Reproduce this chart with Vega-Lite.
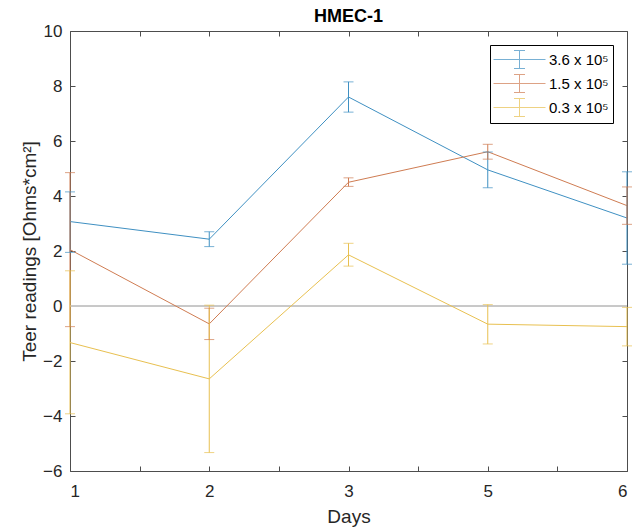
{
  "$schema": "https://vega.github.io/schema/vega-lite/v6.json",
  "width": 557,
  "height": 440,
  "autosize": {"type": "none"},
  "padding": {"left": 70, "top": 31, "right": 10, "bottom": 56},
  "background": "white",
  "title": {"text": "HMEC-1", "fontSize": 18, "fontWeight": "bold", "font": "Liberation Sans", "color": "#000000", "anchor": "middle", "offset": -4},
  "data": {"values": [
    {"series": "3.6 x 10⁵", "obs": 1, "day": 1, "mean": 3.07, "lo": 1.95, "hi": 4.15},
    {"series": "3.6 x 10⁵", "obs": 2, "day": 2, "mean": 2.43, "lo": 2.16, "hi": 2.70},
    {"series": "3.6 x 10⁵", "obs": 3, "day": 3, "mean": 7.6, "lo": 7.05, "hi": 8.15},
    {"series": "3.6 x 10⁵", "obs": 4, "day": 5, "mean": 4.95, "lo": 4.30, "hi": 5.60},
    {"series": "3.6 x 10⁵", "obs": 5, "day": 6, "mean": 3.2, "lo": 1.52, "hi": 4.88},
    {"series": "1.5 x 10⁵", "obs": 1, "day": 1, "mean": 2.05, "lo": -0.75, "hi": 4.85},
    {"series": "1.5 x 10⁵", "obs": 2, "day": 2, "mean": -0.65, "lo": -1.22, "hi": -0.08},
    {"series": "1.5 x 10⁵", "obs": 3, "day": 3, "mean": 4.5, "lo": 4.35, "hi": 4.66},
    {"series": "1.5 x 10⁵", "obs": 4, "day": 5, "mean": 5.61, "lo": 5.34, "hi": 5.88},
    {"series": "1.5 x 10⁵", "obs": 5, "day": 6, "mean": 3.65, "lo": 2.97, "hi": 4.33},
    {"series": "0.3 x 10⁵", "obs": 1, "day": 1, "mean": -1.33, "lo": -3.92, "hi": 1.28},
    {"series": "0.3 x 10⁵", "obs": 2, "day": 2, "mean": -2.65, "lo": -5.33, "hi": 0.03},
    {"series": "0.3 x 10⁵", "obs": 3, "day": 3, "mean": 1.86, "lo": 1.45, "hi": 2.28},
    {"series": "0.3 x 10⁵", "obs": 4, "day": 5, "mean": -0.66, "lo": -1.38, "hi": 0.05},
    {"series": "0.3 x 10⁵", "obs": 5, "day": 6, "mean": -0.75, "lo": -1.45, "hi": -0.05}
  ]},
  "resolve": {"axis": {"x": "independent", "y": "independent"}},
  "layer": [
    {
      "mark": {"type": "rule", "color": "#c8c8c8", "strokeWidth": 1},
      "encoding": {
        "x": {"datum": 1, "type": "quantitative", "scale": {"domain": [1, 5], "nice": false, "zero": false},
              "axis": {"orient": "top", "labels": false, "title": null, "values": [1, 1.5, 2, 2.5, 3, 3.5, 4, 4.5, 5], "grid": false}},
        "x2": {"datum": 5},
        "y": {"datum": 0, "type": "quantitative", "scale": {"domain": [-6, 10], "nice": false, "zero": false},
              "axis": {"orient": "right", "labels": false, "title": null, "values": [-6, -4, -2, 0, 2, 4, 6, 8, 10], "grid": false}}
      }
    },
    {
      "mark": {"type": "line", "strokeWidth": 1},
      "encoding": {
        "x": {"field": "obs", "type": "quantitative", "scale": {"domain": [1, 5], "nice": false, "zero": false},
              "axis": {"orient": "bottom", "title": "Days", "values": [1, 1.5, 2, 2.5, 3, 3.5, 4, 4.5, 5], "grid": false,
                       "labelExpr": "datum.value == 1 ? '1' : datum.value == 2 ? '2' : datum.value == 3 ? '3' : datum.value == 4 ? '5' : datum.value == 5 ? '6' : ''",
                       "titleY": 45, "titleBaseline": "middle", "labelPadding": 17}},
        "y": {"field": "mean", "type": "quantitative", "scale": {"domain": [-6, 10], "nice": false, "zero": false},
              "axis": {"orient": "left", "title": "Teer readings [Ohms*cm²]", "values": [-6, -4, -2, 0, 2, 4, 6, 8, 10], "grid": false,
                       "titleX": -41, "titleY": 220, "titleBaseline": "middle", "titleAngle": -90, "labelPadding": 13}},
        "color": {"field": "series", "type": "nominal",
                  "scale": {"domain": ["3.6 x 10⁵", "1.5 x 10⁵", "0.3 x 10⁵"], "range": ["#3f90c2", "#cf7c52", "#e8c050"]},
                  "legend": {"title": null, "orient": "top-right", "offset": 14,
                             "strokeColor": "#000000", "fillColor": "#ffffff", "padding": 4,
                             "symbolType": "M-2.6,0H2.6M0,-0.9V0.9M-0.55,-0.9H0.55M-0.55,0.9H0.55",
                             "symbolSize": 400, "symbolStrokeWidth": 1, "symbolOffset": 15, "labelOffset": 19,
                             "rowPadding": 1, "labelFontSize": 15, "labelFont": "Liberation Sans", "labelColor": "#000000"}},
        "order": {"field": "obs"}
      }
    },
    {
      "mark": {"type": "rule", "strokeWidth": 1},
      "encoding": {
        "x": {"field": "obs", "type": "quantitative", "axis": null},
        "y": {"field": "lo", "type": "quantitative", "axis": null},
        "y2": {"field": "hi"},
        "color": {"field": "series", "type": "nominal"}
      }
    },
    {
      "mark": {"type": "tick", "orient": "horizontal", "size": 10, "thickness": 1},
      "encoding": {
        "x": {"field": "obs", "type": "quantitative", "axis": null},
        "y": {"field": "lo", "type": "quantitative", "axis": null},
        "color": {"field": "series", "type": "nominal"}
      }
    },
    {
      "mark": {"type": "tick", "orient": "horizontal", "size": 10, "thickness": 1},
      "encoding": {
        "x": {"field": "obs", "type": "quantitative", "axis": null},
        "y": {"field": "hi", "type": "quantitative", "axis": null},
        "color": {"field": "series", "type": "nominal"}
      }
    }
  ],
  "config": {
    "view": {"stroke": null},
    "font": "Liberation Sans",
    "axis": {
      "domainColor": "#4d4d4d", "domainWidth": 1, "tickColor": "#4d4d4d", "tickSize": -5, "tickWidth": 1,
      "labelFont": "Liberation Sans", "labelFontSize": 17, "labelColor": "#262626",
      "titleFont": "Liberation Sans", "titleFontSize": 19, "titleFontWeight": "normal", "titleColor": "#262626"
    }
  }
}
